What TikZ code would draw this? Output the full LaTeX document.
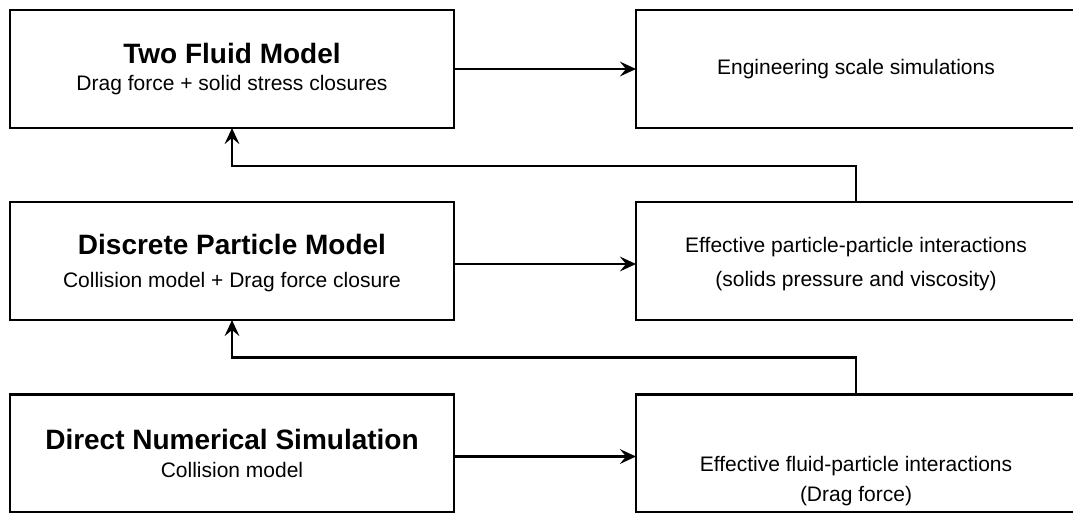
\documentclass[tikz,border=0pt]{standalone}
\usepackage{fontspec}
\setmainfont{Liberation Sans}
\usetikzlibrary{arrows.meta}
\newcommand{\ttlfont}{\fontsize{21pt}{25pt}\selectfont\bfseries}
\newcommand{\subfont}{\fontsize{15.75pt}{19pt}\selectfont}
\begin{document}
\begin{tikzpicture}[x=0.75pt,y=-0.75pt,
  box/.style={draw=black, line width=2pt, minimum width=333pt, minimum height=88.5pt,
    align=center, inner sep=0pt, outer sep=0pt, font=\subfont},
  rbox/.style={box, minimum width=330pt},
  txt/.style={align=center, inner sep=0pt, font=\subfont},
  conn/.style={line width=2pt, -{Stealth[length=12pt,width=11pt,inset=4.5pt]}}]
\useasboundingbox (0,0) rectangle (1073,512);
% left column
\node[box] (tfm) at (232,69) {{\ttlfont Two Fluid Model}\\[1pt] Drag force + solid stress closures};
\node[box] (dpm) at (232,261) {};
\node[txt] (dpmt) at (232,263) {{\ttlfont Discrete Particle Model}\\[6pt] Collision model + Drag force closure};
\node[box] (dns) at (232,453.5) {{\ttlfont Direct Numerical Simulation}\\[2pt] Collision model};
% right column
\node[rbox] (eng) at (856,69) {Engineering scale simulations};
\node[rbox] (epp) at (856,261) {};
\node[txt] (eppt) at (856,264) {Effective particle-particle interactions\\[6pt] (solids pressure and viscosity)};
\node[rbox] (efp) at (856,453.5) {};
\node[txt] (efpt) at (856,481) {Effective fluid-particle interactions\\[3pt] (Drag force)};
% connectors
\draw[conn] (tfm.east) -- (eng.west);
\draw[conn] ([yshift=-2.25pt]dpm.east) -- ([yshift=-2.25pt]epp.west);
\draw[conn] ([yshift=-2.25pt]dns.east) -- ([yshift=-2.25pt]efp.west);
\draw[conn] (epp.north) -- ++(0,-36) -| (tfm.south);
\draw[conn] (efp.north) -- ++(0,-37) -| (dpm.south);
\end{tikzpicture}
\end{document}
